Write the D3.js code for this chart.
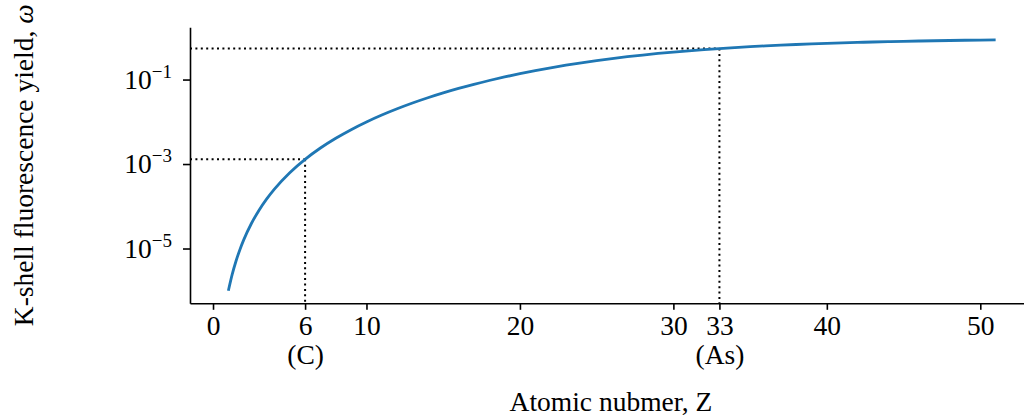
<!DOCTYPE html>
<html>
<head>
<meta charset="utf-8">
<script src="https://cdn.jsdelivr.net/npm/d3@7"></script>
<style>
  body { margin: 0; background: #fff; }
  text { font-family: "Liberation Serif", "DejaVu Serif", serif; fill: #000; }
</style>
</head>
<body>
<div id="chart"></div>
<script>

// curve: atomic number vs K-shell fluorescence yield
var atomicZ = [1, 1.25, 1.5, 1.75, 2, 2.5, 3, 3.5, 4, 5, 6, 7, 8, 9, 10,
  11, 12, 13, 14, 15, 16, 17, 18, 19, 20, 21, 22, 23, 24, 25, 26, 27, 28, 29, 30,
  31, 32, 33, 34, 35, 36, 37, 38, 39, 40, 41, 42, 43, 44, 45, 46, 47, 48, 49, 50, 51];
var yieldW = [1.0e-6, 2.44e-6, 5.06e-6, 9.38e-6, 1.60e-5, 3.91e-5, 8.10e-5, 1.50e-4, 2.56e-4, 6.25e-4,
  1.294e-3, 2.395e-3, 4.079e-3, 6.518e-3, 9.90e-3,
  0.01443, 0.02031, 0.02777, 0.03700, 0.04819, 0.06151, 0.07708, 0.0950, 0.1153, 0.1379,
  0.1628, 0.1898, 0.2187, 0.2491, 0.2809, 0.3137, 0.3470, 0.3807, 0.4143, 0.4475,
  0.4801, 0.5119, 0.5425, 0.5720, 0.6001, 0.6268, 0.6521, 0.6759, 0.6982, 0.7191,
  0.7386, 0.7568, 0.7737, 0.7894, 0.8039, 0.8174, 0.8299, 0.8415, 0.8522, 0.8621, 0.8712];

// tick labels
var xTickValues = [0, 6, 10, 20, 30, 33, 40, 50];
var yTickExps = [-1, -3, -5];

// marked elements (dotted guides)
var markZ = [6, 33];
var markW = [1.294e-3, 0.5425];
var markNames = ["(C)", "(As)"];

var svgWidth = 1024;
var svgHeight = 419;

var margin = { top: 27.3, left: 190 };
var width = 844;   // spine runs a bit past the right edge of the image
var height = 276;

var fontPx = "27.5px";

var svg = d3.select("#chart")
  .append("svg")
  .attr("width", svgWidth)
  .attr("height", svgHeight);

var xScale = d3.scaleLinear()
  .domain([-1.5, 53.5])
  .range([margin.left, margin.left + width]);

var yScale = d3.scaleLog()
  .domain([Math.pow(10, -6.297), Math.pow(10, 0.237)])
  .range([margin.top + height, margin.top]);

var bottomY = margin.top + height;

// dotted guide lines
var guides = svg.append("g");
markZ.forEach(function(z, i) {
  guides.append("line")
    .attr("x1", xScale.range()[0])
    .attr("x2", xScale(z))
    .attr("y1", yScale(markW[i]))
    .attr("y2", yScale(markW[i]))
    .attr("stroke", "#000")
    .attr("stroke-width", 2)
    .attr("stroke-dasharray", "2,3.4");
  guides.append("line")
    .attr("x1", xScale(z))
    .attr("x2", xScale(z))
    .attr("y1", yScale(markW[i]))
    .attr("y2", bottomY)
    .attr("stroke", "#000")
    .attr("stroke-width", 2)
    .attr("stroke-dasharray", "2,3.4");
});

// the curve
var line = d3.line()
  .x(function(d, i) { return xScale(atomicZ[i]); })
  .y(function(d) { return yScale(d); })
  .curve(d3.curveMonotoneX);

svg.append("path")
  .datum(yieldW)
  .attr("d", line)
  .attr("fill", "none")
  .attr("stroke", "#1f77b4")
  .attr("stroke-width", 2.8);

// x axis
var bottomAxis = d3.axisBottom(xScale)
  .tickValues(xTickValues)
  .tickFormat(d3.format("d"))
  .tickSizeInner(6.5)
  .tickSizeOuter(0)
  .tickPadding(5);

var xAxis = svg.append("g")
  .attr("transform", `translate(0, ${bottomY})`)
  .call(bottomAxis);

xAxis.selectAll("text")
  .attr("font-family", null)
  .style("font-size", fontPx)
  .attr("dy", "0.72em");

// element names as a second line under two of the ticks
xAxis.selectAll(".tick text").each(function(d) {
  var i = markZ.indexOf(d);
  if (i >= 0) {
    d3.select(this).append("tspan")
      .attr("x", 0)
      .attr("dy", "1.07em")
      .text(markNames[i]);
  }
});

// y axis
var leftAxis = d3.axisLeft(yScale)
  .tickValues(yTickExps.map(function(e) { return Math.pow(10, e); }))
  .tickFormat("")
  .tickSizeInner(7)
  .tickSizeOuter(0);

var yAxis = svg.append("g")
  .attr("transform", `translate(${margin.left}, 0)`)
  .call(leftAxis);

yTickExps.forEach(function(e) {
  var t = yAxis.append("text")
    .attr("x", -18)
    .attr("y", yScale(Math.pow(10, e)) + 9)
    .attr("text-anchor", "end")
    .style("font-size", fontPx);
  t.append("tspan").text("10");
  t.append("tspan")
    .attr("dy", -11)
    .style("font-size", "19px")
    .text("\u2212" + Math.abs(e));
});

svg.selectAll(".domain, .tick line")
  .attr("stroke", "#000")
  .attr("stroke-width", 1.6);

// axis titles
svg.append("text")
  .attr("x", 611)
  .attr("y", 411)
  .attr("text-anchor", "middle")
  .style("font-size", fontPx)
  .text("Atomic nubmer, Z");

svg.append("text")
  .attr("transform", `translate(33, ${margin.top + height / 2}) rotate(-90)`)
  .attr("text-anchor", "middle")
  .style("font-size", fontPx)
  .html("K-shell fluorescence yield, <tspan font-style='italic'>\u03c9</tspan>");

</script>
</body>
</html>
